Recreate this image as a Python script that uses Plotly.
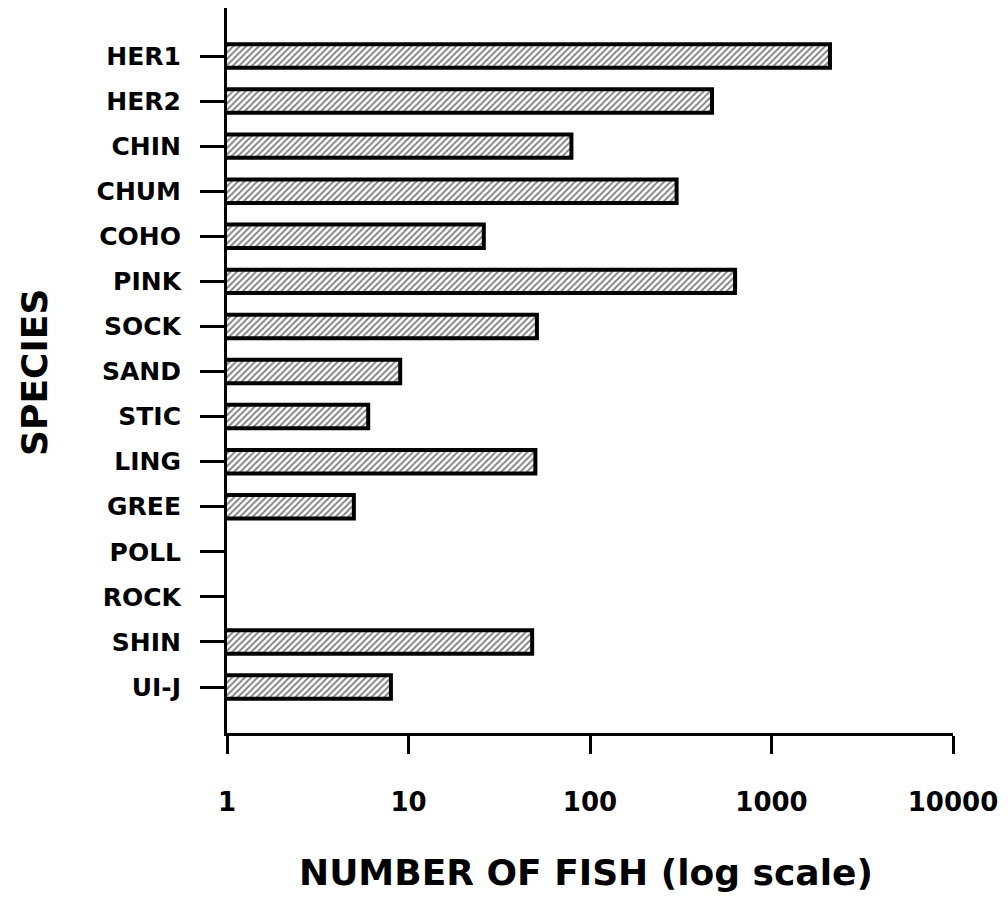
import plotly.graph_objects as go

species = ["HER1", "HER2", "CHIN", "CHUM", "COHO", "PINK", "SOCK", "SAND",
           "STIC", "LING", "GREE", "POLL", "ROCK", "SHIN", "UI-J"]
fish_counts = [2100, 470, 79, 300, 26, 630, 51, 9, 6, 50, 5, None, None, 48, 8]
x_tickvals = [1, 10, 100, 1000, 10000]
x_ticktext = ["1", "10", "100", "1000", "10000"]

FONT = "DejaVu Sans"

fig = go.Figure(
    go.Bar(
        y=species,
        x=fish_counts,
        orientation="h",
        width=0.52,
        marker=dict(
            color="white",
            line=dict(color="black", width=4),
            pattern=dict(shape="/", fgcolor="black", bgcolor="white",
                         size=4.5, solidity=0.4, fillmode="overlay"),
        ),
        hoverinfo="x+y",
    )
)

fig.update_layout(
    width=1008,
    height=901,
    margin=dict(l=227, r=55, t=8, b=168),
    paper_bgcolor="white",
    plot_bgcolor="white",
    showlegend=False,
    font=dict(family=FONT, color="black"),
    xaxis=dict(
        type="log",
        range=[0, 4],
        tickvals=x_tickvals,
        ticktext=x_ticktext,
        showgrid=False,
        zeroline=False,
        showline=True,
        linecolor="black",
        linewidth=3,
        ticks="outside",
        ticklen=18,
        tickwidth=3,
        tickcolor="black",
        ticklabelstandoff=26,
        tickfont=dict(family=FONT, size=26, color="black", weight="bold"),
    ),
    yaxis=dict(
        type="category",
        categoryorder="array",
        categoryarray=species,
        range=[15.02, -1.065],
        showgrid=False,
        zeroline=False,
        showline=True,
        linecolor="black",
        linewidth=3,
        ticks="outside",
        ticklen=24,
        tickwidth=3,
        tickcolor="black",
        ticklabelstandoff=14,
        tickfont=dict(family=FONT, size=25, color="black", weight="bold"),
    ),
    annotations=[
        dict(text="NUMBER OF FISH (log scale)", xref="paper", yref="paper",
             x=0.494, y=-0.192, showarrow=False, xanchor="center", yanchor="middle",
             font=dict(family=FONT, size=36, color="black", weight="bold")),
        dict(text="SPECIES", xref="paper", yref="paper", textangle=-90,
             x=-0.2645, y=0.498, showarrow=False, xanchor="center", yanchor="middle",
             font=dict(family=FONT, size=36, color="black", weight="bold")),
    ],
)

fig.write_html("out.html")
